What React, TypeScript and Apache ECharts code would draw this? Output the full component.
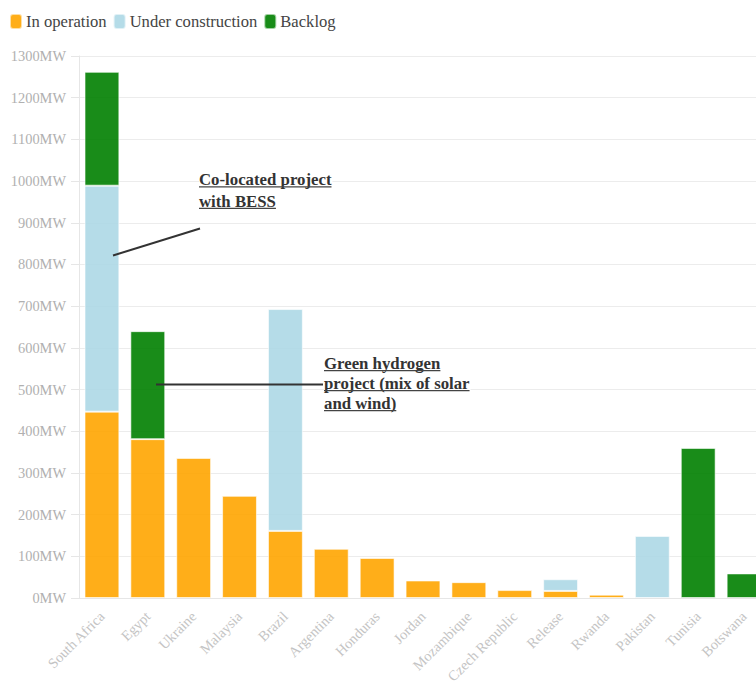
import React, { useEffect, useRef } from "react";
import * as echarts from "echarts";

const categories = [
  "South Africa", "Egypt", "Ukraine", "Malaysia", "Brazil", "Argentina", "Honduras",
  "Jordan", "Mozambique", "Czech Republic", "Release", "Rwanda", "Pakistan", "Tunisia", "Botswana",
];
const inOperation = [447, 381, 336, 245, 161, 118, 96, 42, 38, 19, 17, 8, 0, 0, 0];
const underConstruction = [542, 0, 0, 0, 532, 0, 0, 0, 0, 0, 28, 0, 149, 0, 0];
const backlog = [273, 259, 0, 0, 0, 0, 0, 0, 0, 0, 0, 0, 0, 360, 59];
const seriesNames = ["In operation", "Under construction", "Backlog"];
const seriesColors = ["rgba(255,165,0,0.9)", "rgba(173,216,230,0.9)", "rgba(0,128,0,0.9)"];

const annotation1 = ["Co-located project", "with BESS"];
const annotation2 = ["Green hydrogen", "project (mix of solar", "and wind)"];

const FONT = "Liberation Serif";

function measure(text: string, font: string) {
  const c = document.createElement("canvas").getContext("2d");
  if (!c) return text.length * 8;
  c.font = font;
  return c.measureText(text).width;
}

export default function App() {
  const ref = useRef<HTMLDivElement>(null);
  useEffect(() => {
    document.body.style.margin = "0";
    document.body.style.overflow = "hidden";
    const chart = echarts.init(ref.current!, null, { renderer: "svg" });
    const annSize = 16.8;
    const annFontCss = `bold ${annSize}px "Liberation Serif"`;
    const texts: any[] = [];
    const unders: any[] = [];
    const addLines = (lines: string[], x: number, underlines: number[]) => {
      lines.forEach((t, i) => {
        const u = underlines[i];
        texts.push({
          type: "text",
          x,
          y: u - 1.5 - 0.33 * annSize,
          z: 10,
          style: {
            text: t,
            fontFamily: FONT,
            fontSize: annSize,
            fontWeight: "bold",
            fill: "#333",
            verticalAlign: "middle",
            align: "left",
            backgroundColor: "#fff",
            padding: [0, 1, 0, 0],
          },
          silent: true,
        });
        const w = measure(t, annFontCss);
        unders.push({
          type: "line",
          z: 11,
          shape: { x1: x, y1: u, x2: x + w, y2: u },
          style: { stroke: "#444", lineWidth: 1.3 },
          silent: true,
        });
      });
    };
    addLines(annotation1, 199, [186.8, 208.3]);
    addLines(annotation2, 324, [370.7, 390.7, 410.7]);
    const leaders = [
      {
        type: "line",
        z: 9,
        shape: { x1: 113, y1: 255.5, x2: 200, y2: 228.5 },
        style: { stroke: "#333", lineWidth: 2 },
        silent: true,
      },
      {
        type: "line",
        z: 12,
        shape: { x1: 156, y1: 384.5, x2: 323, y2: 384.5 },
        style: { stroke: "#333", lineWidth: 2 },
        silent: true,
      },
    ];

    const data = [inOperation, underConstruction, backlog];
    chart.setOption({
      animation: false,
      textStyle: { fontFamily: FONT },
      legend: {
        left: 9,
        top: 13,
        padding: 0,
        itemWidth: 12,
        itemHeight: 15,
        itemGap: 6,
        icon: "roundRect",
        textStyle: { fontFamily: FONT, fontSize: 16.6, color: "#444", padding: [0, 0, 0, -1] },
        data: seriesNames,
      },
      grid: { left: 79, right: 13, top: 56, bottom: 86, containLabel: false, outerBoundsMode: "none" },
      xAxis: {
        type: "category",
        data: categories,
        axisLine: { lineStyle: { color: "#e6e6e6" } },
        axisTick: { alignWithLabel: true, length: 6, lineStyle: { color: "#e6e6e6" } },
        axisLabel: { rotate: 45, fontSize: 14.4, color: "#c4c4c4", fontFamily: FONT, margin: 16 },
      },
      yAxis: {
        type: "value",
        min: 0,
        max: 1300,
        interval: 100,
        axisLine: { show: true, lineStyle: { color: "#e6e6e6" } },
        axisTick: { show: true, length: 8, lineStyle: { color: "#e6e6e6" } },
        splitLine: { lineStyle: { color: "#ececec" } },
        axisLabel: {
          formatter: (v: number) => `${v}MW`,
          fontSize: 14.4,
          color: "#b0b0b0",
          fontFamily: FONT,
          margin: 13,
        },
      },
      series: seriesNames.map((name, i) => ({
        name,
        type: "bar",
        stack: "total",
        barCategoryGap: "24%",
        data: data[i].map((v) => (v === 0 ? null : v)),
        itemStyle: { color: seriesColors[i], borderColor: "rgba(255,255,255,0.6)", borderWidth: 1 },
      })),
      graphic: [...leaders, ...texts, ...unders],
    });
    return () => chart.dispose();
  }, []);
  return (
    <div style={{ width: 756, height: 684, overflow: "hidden", position: "relative" }}>
      <div ref={ref} style={{ width: 780, height: 684 }} />
    </div>
  );
}
